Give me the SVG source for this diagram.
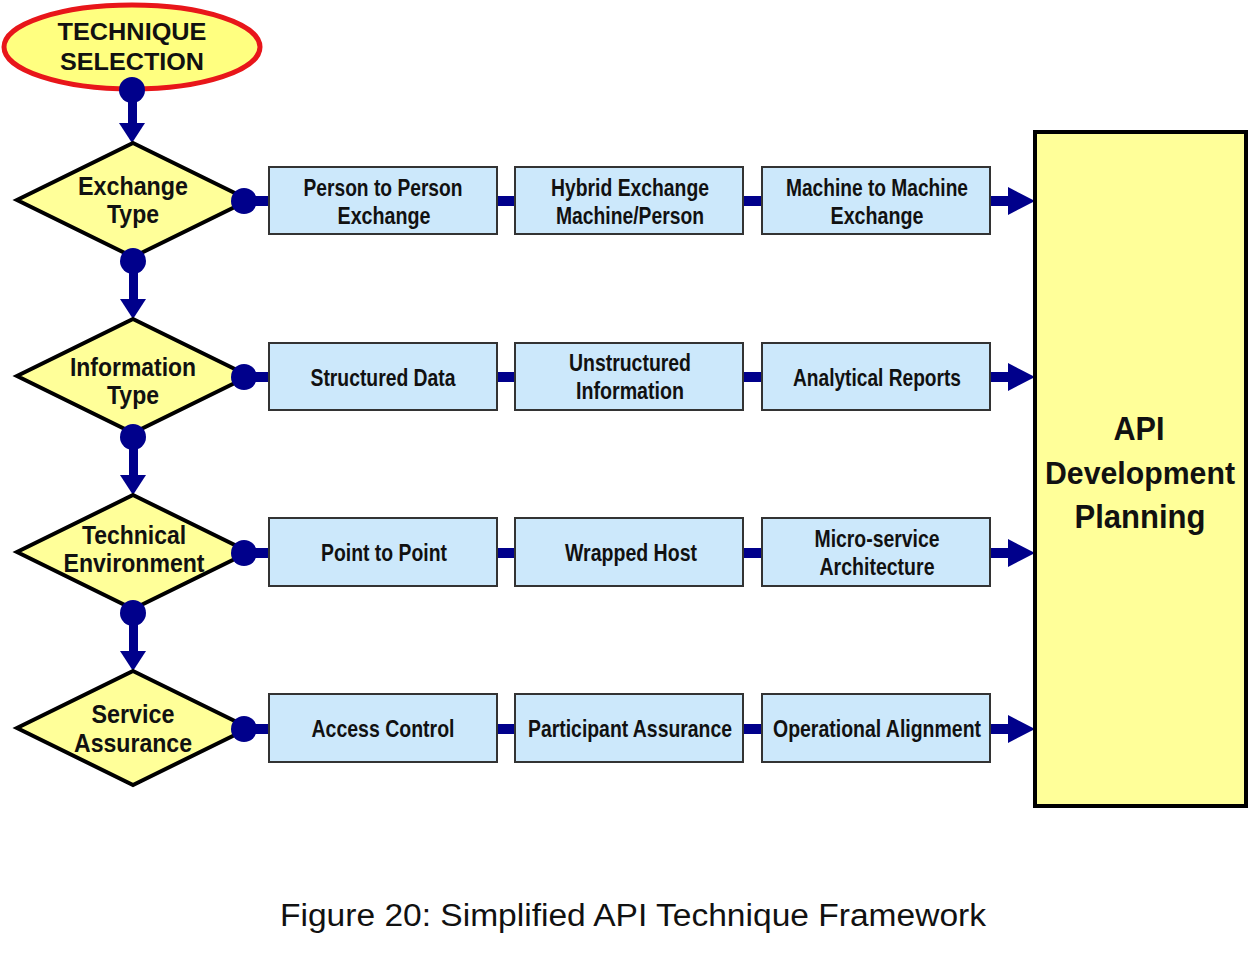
<svg xmlns="http://www.w3.org/2000/svg" width="1249" height="959" viewBox="0 0 1249 959">
<style>
  .bg{fill:#ffffff}
  .dia{fill:#ffff99;stroke:#000;stroke-width:4;stroke-linejoin:miter}
  .box{fill:#cce8fb;stroke:#333;stroke-width:2}
  .big{fill:#ffff99;stroke:#000;stroke-width:4}
  .ell{fill:#ffff80;stroke:#e8161a;stroke-width:5}
  .dot{fill:#00008b}
  .ln{fill:#00008b}
  .t{font-family:"Liberation Sans",Arial,sans-serif;font-weight:bold;fill:#111;text-anchor:middle}
  .bt{font-size:24px}
  .dt{font-size:25px}
  .et{font-size:23px}
  .gt{font-size:33px}
  .gd{font-size:31px}
  .cap{font-family:"Liberation Sans",Arial,sans-serif;font-size:31px;fill:#111;text-anchor:middle}
</style>
<rect class="bg" x="0" y="0" width="1249" height="959"/>

<g id="connectors">
  <rect class="ln" x="128" y="90" width="9" height="35"/>
  <polygon class="ln" points="119,123 145,123 132,143"/>
  <rect class="ln" x="129" y="261" width="9" height="40"/>
  <polygon class="ln" points="120,299 146,299 133,319"/>
  <rect class="ln" x="129" y="437" width="9" height="40"/>
  <polygon class="ln" points="120,475 146,475 133,495"/>
  <rect class="ln" x="129" y="613" width="9" height="40"/>
  <polygon class="ln" points="120,651 146,651 133,671"/>
  <rect class="ln" x="244" y="196" width="26" height="10"/>
  <rect class="ln" x="497" y="196" width="18" height="10"/>
  <rect class="ln" x="743" y="196" width="19" height="10"/>
  <rect class="ln" x="990" y="196" width="20" height="10"/>
  <polygon class="ln" points="1008,187 1035,201 1008,215"/>
  <rect class="ln" x="244" y="372" width="26" height="10"/>
  <rect class="ln" x="497" y="372" width="18" height="10"/>
  <rect class="ln" x="743" y="372" width="19" height="10"/>
  <rect class="ln" x="990" y="372" width="20" height="10"/>
  <polygon class="ln" points="1008,363 1035,377 1008,391"/>
  <rect class="ln" x="244" y="548" width="26" height="10"/>
  <rect class="ln" x="497" y="548" width="18" height="10"/>
  <rect class="ln" x="743" y="548" width="19" height="10"/>
  <rect class="ln" x="990" y="548" width="20" height="10"/>
  <polygon class="ln" points="1008,539 1035,553 1008,567"/>
  <rect class="ln" x="244" y="724" width="26" height="10"/>
  <rect class="ln" x="497" y="724" width="18" height="10"/>
  <rect class="ln" x="743" y="724" width="19" height="10"/>
  <rect class="ln" x="990" y="724" width="20" height="10"/>
  <polygon class="ln" points="1008,715 1035,729 1008,743"/>
</g>

<g id="technique-selection">
  <ellipse class="ell" cx="132" cy="47" rx="128" ry="42"/>
  <text class="t et" x="132" y="40" textLength="149" lengthAdjust="spacingAndGlyphs">TECHNIQUE</text>
  <text class="t et" x="132" y="70" textLength="144" lengthAdjust="spacingAndGlyphs">SELECTION</text>
</g>

<g id="exchange-type">
  <polygon class="dia" points="133,143 249,200 133,257 17,200"/>
  <text class="t dt" x="133" y="195" textLength="110" lengthAdjust="spacingAndGlyphs">Exchange</text>
  <text class="t dt" x="133" y="223" textLength="52" lengthAdjust="spacingAndGlyphs">Type</text>
</g>
<g id="information-type">
  <polygon class="dia" points="133,319 249,376 133,433 17,376"/>
  <text class="t dt" x="133" y="376" textLength="126" lengthAdjust="spacingAndGlyphs">Information</text>
  <text class="t dt" x="133" y="404" textLength="52" lengthAdjust="spacingAndGlyphs">Type</text>
</g>
<g id="technical-environment">
  <polygon class="dia" points="133,495 249,552 133,609 17,552"/>
  <text class="t dt" x="134" y="544" textLength="104" lengthAdjust="spacingAndGlyphs">Technical</text>
  <text class="t dt" x="134" y="572" textLength="141" lengthAdjust="spacingAndGlyphs">Environment</text>
</g>
<g id="service-assurance">
  <polygon class="dia" points="133,671 249,728 133,785 17,728"/>
  <text class="t dt" x="133" y="723" textLength="83" lengthAdjust="spacingAndGlyphs">Service</text>
  <text class="t dt" x="133" y="752" textLength="118" lengthAdjust="spacingAndGlyphs">Assurance</text>
</g>

<g id="dots">
  <circle class="dot" cx="132" cy="90" r="13"/>
  <circle class="dot" cx="133" cy="261" r="13"/>
  <circle class="dot" cx="133" cy="437" r="13"/>
  <circle class="dot" cx="133" cy="613" r="13"/>
  <circle class="dot" cx="244" cy="201" r="13"/>
  <circle class="dot" cx="244" cy="377" r="13"/>
  <circle class="dot" cx="244" cy="553" r="13"/>
  <circle class="dot" cx="244" cy="729" r="13"/>
</g>

<g id="person-to-person">
  <rect class="box" x="269" y="167" width="228" height="67"/>
  <text class="t bt" x="383" y="196" textLength="159" lengthAdjust="spacingAndGlyphs">Person to Person</text>
  <text class="t bt" x="384" y="224" textLength="93" lengthAdjust="spacingAndGlyphs">Exchange</text>
</g>
<g id="hybrid-exchange">
  <rect class="box" x="515" y="167" width="228" height="67"/>
  <text class="t bt" x="630" y="196" textLength="158" lengthAdjust="spacingAndGlyphs">Hybrid Exchange</text>
  <text class="t bt" x="630" y="224" textLength="148" lengthAdjust="spacingAndGlyphs">Machine/Person</text>
</g>
<g id="machine-to-machine">
  <rect class="box" x="762" y="167" width="228" height="67"/>
  <text class="t bt" x="877" y="196" textLength="182" lengthAdjust="spacingAndGlyphs">Machine to Machine</text>
  <text class="t bt" x="877" y="224" textLength="93" lengthAdjust="spacingAndGlyphs">Exchange</text>
</g>

<g id="structured-data">
  <rect class="box" x="269" y="343" width="228" height="67"/>
  <text class="t bt" x="383" y="386" textLength="145" lengthAdjust="spacingAndGlyphs">Structured Data</text>
</g>
<g id="unstructured-information">
  <rect class="box" x="515" y="343" width="228" height="67"/>
  <text class="t bt" x="630" y="371" textLength="122" lengthAdjust="spacingAndGlyphs">Unstructured</text>
  <text class="t bt" x="630" y="399" textLength="108" lengthAdjust="spacingAndGlyphs">Information</text>
</g>
<g id="analytical-reports">
  <rect class="box" x="762" y="343" width="228" height="67"/>
  <text class="t bt" x="877" y="386" textLength="168" lengthAdjust="spacingAndGlyphs">Analytical Reports</text>
</g>

<g id="point-to-point">
  <rect class="box" x="269" y="518" width="228" height="68"/>
  <text class="t bt" x="384" y="561" textLength="126" lengthAdjust="spacingAndGlyphs">Point to Point</text>
</g>
<g id="wrapped-host">
  <rect class="box" x="515" y="518" width="228" height="68"/>
  <text class="t bt" x="631" y="561" textLength="132" lengthAdjust="spacingAndGlyphs">Wrapped Host</text>
</g>
<g id="micro-service-architecture">
  <rect class="box" x="762" y="518" width="228" height="68"/>
  <text class="t bt" x="877" y="547" textLength="125" lengthAdjust="spacingAndGlyphs">Micro-service</text>
  <text class="t bt" x="877" y="575" textLength="115" lengthAdjust="spacingAndGlyphs">Architecture</text>
</g>

<g id="access-control">
  <rect class="box" x="269" y="694" width="228" height="68"/>
  <text class="t bt" x="383" y="737" textLength="143" lengthAdjust="spacingAndGlyphs">Access Control</text>
</g>
<g id="participant-assurance">
  <rect class="box" x="515" y="694" width="228" height="68"/>
  <text class="t bt" x="630" y="737" textLength="204" lengthAdjust="spacingAndGlyphs">Participant Assurance</text>
</g>
<g id="operational-alignment">
  <rect class="box" x="762" y="694" width="228" height="68"/>
  <text class="t bt" x="877" y="737" textLength="208" lengthAdjust="spacingAndGlyphs">Operational Alignment</text>
</g>

<g id="api-development-planning">
  <rect class="big" x="1035" y="132" width="211" height="674"/>
  <text class="t gt" x="1139" y="440" textLength="51" lengthAdjust="spacingAndGlyphs">API</text>
  <text class="t gd" x="1140" y="484" textLength="190" lengthAdjust="spacingAndGlyphs">Development</text>
  <text class="t gt" x="1140" y="528" textLength="131" lengthAdjust="spacingAndGlyphs">Planning</text>
</g>

<text class="cap" x="633" y="926" textLength="706" lengthAdjust="spacingAndGlyphs">Figure 20: Simplified API Technique Framework</text>
</svg>
